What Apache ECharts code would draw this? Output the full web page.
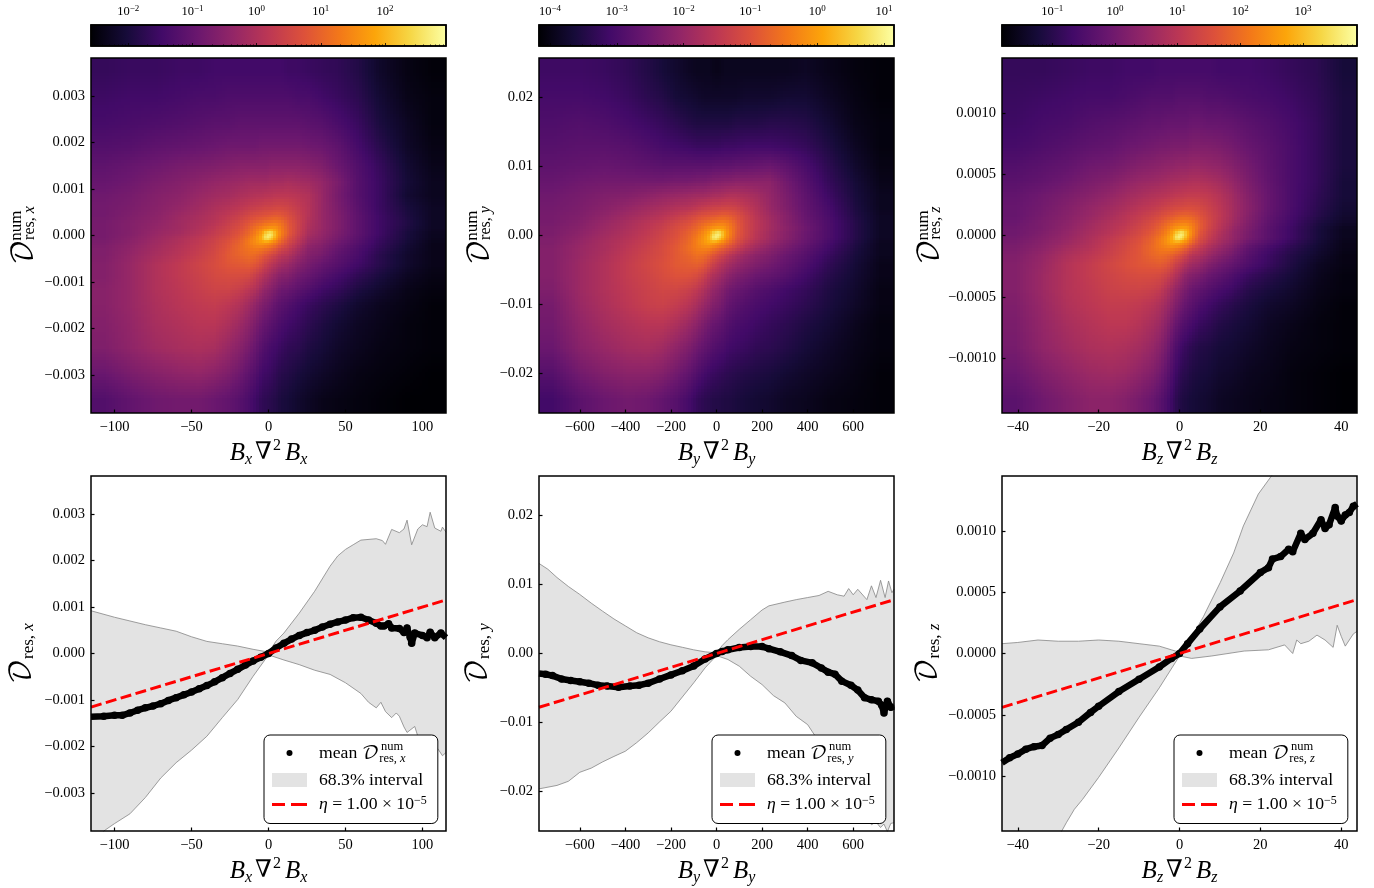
<!DOCTYPE html>
<html><head><meta charset="utf-8"><style>html,body{margin:0;padding:0;background:#fff}#c{width:1374px;height:888px}</style>
<script src="https://cdn.jsdelivr.net/npm/echarts@6/dist/echarts.min.js"></script></head><body><div id="c"></div>
<script>
const panelNames = ['x','y','z'];
const halfRangeX = [115.3, 779, 43.9];
const halfRangeY = [0.00382, 0.0257, 0.001447];
const ticksX = [[-100,-50,0,50,100],[-600,-400,-200,0,200,400,600],[-40,-20,0,20,40]];
const ticksY = [[-0.003,-0.002,-0.001,0,0.001,0.002,0.003],[-0.02,-0.01,0,0.01,0.02],[-0.001,-0.0005,0,0.0005,0.001]];
const tickDecimals = [3,2,4];
const colorbarRange = [[-2.58,2.95],[-4.165,1.15],[-1.80,3.86]];
const colorbarTicks = [[-2,-1,0,1,2],[-4,-3,-2,-1,0,1],[-1,0,1,2,3]];
const eta = 1e-5;
const infernoStops = ['#000004','#160b39','#420a68','#6a176e','#932667','#bc3754','#dd513a','#f37819','#fca50a','#f6d746','#fcffa4'];
// bin edges of the density maps, as a share of each half range (one side, repeated mirrored)
const heatEdgeShares = [0,.025,.055,.09,.135,.19,.26,.34,.44,.56,.70,.85,1];
// density map levels, % along the colour scale, rows from top to bottom
const heatLevelsX = [
[17,18,18,19,19,20,20,20,20,20,20,20,20,20,20,19,19,18,17,16,13,7,3,1],
[19,20,20,21,22,22,23,23,23,23,23,23,23,23,23,23,22,22,20,18,15,9,4,2],
[21,22,23,24,25,26,26,27,27,27,27,27,27,27,27,27,27,26,25,22,18,11,6,2],
[24,25,27,28,29,30,31,31,31,31,32,32,32,32,32,32,32,31,30,27,21,14,7,3],
[27,29,31,33,34,35,36,37,37,37,37,37,38,38,38,38,38,37,35,30,24,17,9,4],
[29,31,34,36,38,40,41,42,43,43,43,43,44,44,44,45,44,43,40,34,25,18,10,5],
[31,33,36,38,41,43,44,46,47,48,48,49,49,50,50,50,49,47,41,33,25,18,9,5],
[32,34,37,40,43,46,48,50,52,53,54,55,55,56,56,55,52,48,41,34,26,18,11,6],
[32,35,38,42,45,48,51,54,57,59,60,61,62,63,62,59,54,48,41,35,27,19,12,6],
[33,36,39,43,46,49,53,57,61,64,66,68,69,70,68,62,55,47,41,35,27,19,13,6],
[33,36,40,43,47,51,55,59,64,69,73,76,78,77,71,63,55,46,41,35,27,19,12,6],
[33,36,41,44,48,52,56,61,66,72,79,92,96,82,72,63,54,45,40,34,27,19,11,5],
[33,37,42,46,50,54,58,63,69,75,83,96,90,79,69,60,52,43,39,33,26,18,11,5],
[34,38,43,47,51,55,60,65,71,75,78,77,74,70,64,57,50,41,37,31,25,17,10,4],
[35,39,44,48,52,56,61,66,69,71,70,68,66,62,57,53,46,38,35,29,23,16,9,4],
[35,40,45,49,53,57,62,65,67,66,63,60,57,54,50,48,42,36,33,27,22,14,8,4],
[36,41,47,51,55,58,61,62,63,61,57,53,50,47,44,42,37,33,29,25,20,14,8,4],
[36,41,47,51,54,57,58,58,57,53,49,46,43,40,37,36,32,29,25,21,16,11,6,3],
[37,41,47,50,53,55,55,53,50,47,42,39,37,34,31,30,27,24,20,17,12,8,4,2],
[37,41,46,49,51,52,50,47,43,39,35,33,31,28,26,24,21,18,15,12,8,5,3,1],
[36,40,45,47,49,49,46,42,38,34,30,28,26,24,22,20,18,15,12,9,6,4,2,1],
[35,39,43,45,46,45,41,37,33,29,25,23,21,20,18,16,15,12,10,7,5,3,2,1],
[30,34,37,39,40,38,35,31,27,24,20,19,18,16,14,13,11,9,7,5,3,2,1,0],
[24,28,31,32,32,30,28,25,22,19,16,15,14,13,11,10,8,6,4,3,2,1,0,0]];
const heatLevelsY = [
[19,19,18,16,13,10,8,6,5,5,5,4,4,5,5,5,5,5,5,5,6,4,2,1],
[21,21,20,18,15,13,10,9,8,7,7,7,7,7,7,7,8,8,8,9,9,6,3,1],
[23,24,23,21,19,17,15,13,12,12,12,12,12,12,12,13,13,13,14,14,13,9,4,2],
[25,26,26,25,23,21,20,19,18,18,18,18,18,19,19,19,20,20,20,19,17,12,6,2],
[27,28,29,28,27,26,26,26,26,26,26,27,27,27,27,28,28,29,30,27,22,15,8,3],
[29,31,32,32,32,32,33,33,34,34,35,36,36,37,37,38,38,38,38,32,25,17,10,4],
[31,33,35,36,38,40,41,42,43,43,44,45,45,46,47,47,46,44,40,34,27,19,11,5],
[32,34,37,40,43,45,47,48,50,52,53,54,54,55,55,54,51,47,41,35,28,21,12,5],
[33,35,39,43,46,49,52,55,58,60,61,62,63,64,63,60,55,49,43,37,29,22,13,6],
[33,36,41,45,49,52,56,59,63,66,68,70,71,71,69,63,56,50,44,37,30,23,14,6],
[34,37,42,46,50,54,58,62,66,71,75,78,79,78,72,64,56,50,44,38,31,23,14,6],
[34,38,43,47,51,55,59,64,69,75,81,93,97,83,73,63,56,49,43,37,30,23,14,6],
[35,39,44,48,52,56,60,65,71,77,84,97,91,80,71,62,55,49,43,37,30,23,14,6],
[35,40,45,49,53,57,61,66,72,77,80,78,75,71,66,59,52,46,41,35,29,21,13,5],
[36,41,45,50,54,58,62,67,71,73,72,69,66,63,59,54,48,43,38,33,27,20,12,5],
[36,41,46,51,55,58,62,65,68,67,64,60,57,54,50,46,42,38,35,30,25,18,11,5],
[36,42,47,52,56,59,62,63,64,62,57,53,50,47,44,41,38,35,32,28,23,16,10,4],
[36,42,47,52,55,58,60,60,58,54,49,46,44,41,38,35,33,30,28,25,20,14,9,4],
[35,42,47,51,54,56,56,54,51,47,43,40,38,35,32,30,28,25,23,20,17,12,8,3],
[33,41,46,50,53,54,52,49,45,41,38,35,34,31,28,26,24,22,20,18,15,11,7,3],
[32,39,44,47,49,49,46,42,38,34,31,29,28,26,24,22,21,19,17,15,12,9,5,2],
[30,37,41,44,45,43,39,35,31,28,26,24,23,22,20,19,18,16,15,13,10,7,4,2],
[25,32,36,38,38,36,32,28,24,21,19,18,17,16,15,14,13,12,11,9,7,5,3,1],
[20,26,30,32,31,28,25,21,17,15,14,13,13,12,12,11,10,9,8,6,5,3,2,1]];
const heatLevelsZ = [
[17,17,18,19,19,20,20,20,21,21,21,21,21,21,21,21,21,20,20,20,19,17,15,10],
[18,19,20,21,21,22,23,24,24,24,24,25,25,25,25,25,24,24,23,22,21,19,16,11],
[19,21,22,24,25,26,27,28,28,29,29,29,29,29,30,30,29,29,28,26,24,21,17,11],
[21,23,25,27,28,30,31,32,33,33,34,34,34,34,35,35,35,34,32,29,26,22,17,11],
[24,26,28,31,32,34,36,37,38,39,39,40,40,40,41,41,40,39,36,32,27,22,17,11],
[26,28,31,34,36,39,41,42,43,44,45,45,46,46,47,47,46,44,40,34,28,22,17,10],
[28,31,34,37,40,43,45,47,48,49,50,51,51,52,52,52,51,48,43,36,29,22,16,10],
[29,32,36,40,43,46,49,51,53,55,56,57,57,58,58,57,54,50,44,37,29,22,15,9],
[29,33,37,41,45,49,52,55,58,61,62,64,65,65,64,61,56,51,44,36,28,21,14,8],
[30,34,38,43,47,50,54,58,62,66,69,71,72,72,70,64,57,50,43,35,27,20,12,7],
[31,34,39,44,48,52,56,60,65,70,75,78,80,79,73,64,56,49,41,34,26,19,11,5],
[31,35,40,45,49,53,57,62,67,73,80,92,97,84,73,62,54,47,40,33,26,19,11,5],
[32,36,41,46,51,55,59,64,70,76,83,97,92,80,70,60,53,46,40,33,26,19,11,5],
[33,37,42,47,52,56,60,65,71,76,80,79,76,72,65,57,50,44,38,30,24,17,10,4],
[34,38,44,48,53,57,61,66,70,72,72,70,67,63,57,52,46,41,35,27,21,15,9,4],
[35,40,46,50,54,58,61,65,67,66,64,61,58,54,49,47,42,37,32,25,19,13,8,3],
[36,41,48,52,56,59,61,62,63,61,57,53,50,46,43,41,36,32,28,23,18,12,6,3],
[36,42,48,52,55,57,58,58,57,54,50,46,42,38,36,34,30,27,23,18,14,10,5,2],
[36,42,48,51,54,55,55,54,52,47,43,39,36,33,30,28,25,22,19,14,11,8,4,2],
[35,41,47,50,52,52,51,49,46,42,38,34,31,28,26,23,20,17,14,11,8,6,3,1],
[34,40,45,48,50,50,48,45,42,37,32,28,25,23,21,18,16,13,11,9,6,4,2,1],
[33,39,43,46,47,46,44,41,37,32,26,22,19,17,15,13,12,10,9,7,5,3,2,1],
[30,35,39,42,43,42,39,36,32,27,22,18,15,14,12,11,10,8,7,5,4,2,1,0],
[26,31,35,38,38,36,33,30,26,22,18,14,12,11,10,9,8,6,5,4,3,2,1,0]];
const heatLevels = [heatLevelsX, heatLevelsY, heatLevelsZ];

// profile panels: [x, value]
const upperX = [[-115.3,.00092],[-100,.00078],[-90,.0007],[-80,.00062],[-70,.00055],[-60,.00048],[-50,.00036],[-40,.00026],[-30,.00021],[-20,.00016],[-10,.00009],[0,.00003],[5,.00027],[10,.00044],[20,.00087],[30,.00134],[40,.00188],[45,.0021],[50,.00224],[55,.00234],[60,.00244],[70,.00247],[74,.00243],[76,.00235],[80,.00267],[85,.0026],[88,.00268],[90,.00287],[93,.00234],[97,.00268],[100,.00277],[103,.00273],[105,.00304],[108,.0027],[112,.00263],[113,.00272],[115.3,.00261]];
const lowerX = [[-115.3,-.0042],[-107,-.00382],[-100,-.00366],[-90,-.00345],[-80,-.0031],[-70,-.00268],[-60,-.00235],[-50,-.00208],[-40,-.00178],[-30,-.00138],[-20,-.00099],[-10,-.00049],[0,-.00003],[10,-.00014],[20,-.00024],[30,-.00036],[40,-.00045],[50,-.00063],[60,-.00086],[65,-.00105],[70,-.00117],[73,-.00105],[76,-.00125],[80,-.00138],[83,-.00128],[85,-.00135],[88,-.00158],[90,-.0017],[95,-.00157],[97,-.00178],[100,-.00185],[105,-.0019],[110,-.00205],[113,-.0022],[115.3,-.00213]];
const meanX = [[-115.3,-.00136],[-107,-.00135],[-100,-.00133],[-95,-.00133],[-90,-.00128],[-85,-.00122],[-80,-.00117],[-75,-.00113],[-70,-.00108],[-65,-.00101],[-60,-.00095],[-55,-.00089],[-50,-.00083],[-45,-.00076],[-40,-.00069],[-35,-.00061],[-30,-.00052],[-25,-.00043],[-20,-.00034],[-15,-.00025],[-10,-.00016],[-5,-.00008],[0,0],[5,.00012],[10,.00022],[15,.00031],[20,.00039],[25,.00045],[30,.0005],[35,.00057],[40,.00063],[45,.00068],[50,.00072],[55,.00077],[60,.00078],[65,.00072],[70,.00065],[73,.00059],[75,.00059],[78,.00064],[80,.00055],[85,.00054],[88,.00045],[90,.00055],[92,.00035],[93,.00022],[95,.00044],[100,.00039],[103,.00034],[105,.00046],[108,.00034],[112,.00044],[115.3,.00034]];
const upperY = [[-779,.01304],[-740,.0122],[-700,.011],[-650,.0097],[-600,.00855],[-550,.0073],[-500,.00613],[-450,.005],[-400,.004],[-350,.003],[-300,.00227],[-250,.0017],[-200,.00126],[-150,.0009],[-100,.00053],[-50,.00024],[0,.0001],[25,.00116],[50,.002],[100,.0035],[150,.0049],[200,.0063],[230,.0069],[300,.00744],[350,.0078],[400,.0081],[450,.0084],[490,.009],[530,.0085],[560,.0083],[580,.0094],[600,.0085],[620,.0093],[660,.0078],[680,.0098],[700,.0081],[720,.0106],[740,.0081],[755,.0105],[770,.0088],[779,.0093]];
const lowerY = [[-779,-.0196],[-700,-.0191],[-650,-.0185],[-600,-.0172],[-550,-.0166],[-500,-.0157],[-450,-.0149],[-400,-.01415],[-350,-.0129],[-300,-.0115],[-250,-.0099],[-200,-.00836],[-150,-.0063],[-100,-.00425],[-50,-.00208],[0,-.0003],[50,-.00087],[100,-.00184],[150,-.0033],[200,-.0045],[250,-.0061],[300,-.00715],[350,-.0091],[400,-.0103],[430,-.0118],[500,-.014],[600,-.0195],[680,-.0248],[700,-.0244],[720,-.0252],[735,-.0247],[750,-.0258],[765,-.0246],[779,-.0245]];
const meanY = [[-779,-.0029],[-750,-.003],[-720,-.0032],[-680,-.0037],[-640,-.0039],[-600,-.0041],[-560,-.0043],[-520,-.0046],[-480,-.0047],[-430,-.0049],[-380,-.0047],[-340,-.0046],[-300,-.0043],[-250,-.0037],[-200,-.0031],[-150,-.0025],[-100,-.0018],[-50,-.0008],[0,0],[25,.0003],[50,.00053],[100,.00087],[150,.001],[200,.001],[230,.0007],[280,.00024],[330,-.0003],[370,-.001],[420,-.00135],[460,-.0021],[490,-.0027],[520,-.003],[550,-.004],[590,-.0046],[620,-.0053],[650,-.0064],[680,-.0067],[710,-.0069],[725,-.0075],[735,-.0086],[750,-.0069],[765,-.0078],[779,-.0077]];
const upperZ = [[-43.9,.00008],[-40,.00009],[-35,.00011],[-30,.0001],[-25,.0001],[-20,.00011],[-15,.0001],[-10,.00008],[-5,.00006],[-2,.00003],[0,.00001],[2.6,.00011],[5.9,.0003],[10.1,.00058],[13.4,.00082],[15.8,.00104],[19.5,.0013],[22.8,.00145],[24,.0015],[30,.00185],[43.9,.0025]];
const lowerZ = [[-43.9,-.0023],[-35,-.0018],[-29,-.00144],[-28,-.00138],[-26,-.00127],[-24,-.00119],[-20,-.00101],[-15,-.00077],[-10,-.00052],[-5,-.00028],[0,-.00002],[3,-.00004],[8,-.00002],[16,.00002],[22,.00003],[26,.00007],[28,.0],[29,.00011],[30,.00008],[32,.0001],[34,.00015],[36,.00011],[38,.00005],[39,.00023],[40,.00014],[41,.00006],[43,.00016],[43.9,.00018]];
const meanZ = [[-43.9,-.00089],[-42,-.00085],[-40,-.00082],[-38,-.00078],[-36,-.00076],[-34,-.00075],[-32,-.00069],[-30,-.00066],[-28,-.00062],[-25,-.00056],[-22,-.00048],[-20,-.00043],[-15,-.00031],[-10,-.00021],[-5,-.00011],[-2,-.00004],[0,0],[2,.00008],[5,.0002],[10,.00038],[15,.00051],[20,.00066],[22,.0007],[23,.00077],[25,.00079],[27,.00085],[28,.00083],[30,.00098],[31,.00093],[33,.00098],[35,.00109],[36,.00102],[37,.00105],[38.5,.00119],[39,.00112],[40,.00108],[41,.00113],[42,.00115],[43,.0012],[43.9,.00122]];
const uppers=[upperX,upperY,upperZ], lowers=[lowerX,lowerY,lowerZ], means=[meanX,meanY,meanZ];

const SERIF = '"Liberation Serif","DejaVu Serif",serif';
const CAL = '"DejaVu Math TeX Gyre","Noto Sans Math","STIX Two Math","Liberation Serif",serif';
const panelLeft=[91,539,1002];
const W=355;
const rowTop={bar:25,heat:58,prof:476};

function hexToRgb(h){return [1,3,5].map(i=>parseInt(h.substr(i,2),16));}
const stopRgb=infernoStops.map(hexToRgb);
function inferno(level){
  const t=Math.max(0,Math.min(99.999,level))/10, i=Math.floor(t), f=t-i;
  const a=stopRgb[i], b=stopRgb[i+1];
  return 'rgb('+a.map((v,k)=>Math.round(v+(b[k]-v)*f)).join(',')+')';
}
const signedEdges=[...heatEdgeShares.slice(1).reverse().map(v=>-v),...heatEdgeShares];
const cellCentres=signedEdges.slice(1).map((e,i)=>(e+signedEdges[i])/2);
// Paint-time shading only (like imshow with bilinear display): each read cell stays one datum
// of the series; its colour is blended towards the neighbouring read cells so bin edges do not show.
function centreIndex(s){let i=0;while(i<cellCentres.length-2&&s>cellCentres[i+1])i++;
  return [i,Math.max(0,Math.min(1,(s-cellCentres[i])/(cellCentres[i+1]-cellCentres[i])))];}
function shadeAt(m,sx,sy){ // sy measured upward
  const [c,fx]=centreIndex(sx),[k,fy]=centreIndex(sy);
  const rb=23-k,rt=22-k;
  const b=m[rb][c]*(1-fx)+m[rb][c+1]*fx, t=m[rt][c]*(1-fx)+m[rt][c+1]*fx;
  return b*(1-fy)+t*fy;
}

function mathRich(){return {
  i:{fontFamily:SERIF,fontStyle:'italic',fontSize:25,lineHeight:30,color:'#000'},
  ig:{fontFamily:SERIF,fontStyle:'italic',fontSize:25,lineHeight:30,color:'#000',padding:[0,0,0,2]},
  s:{fontFamily:SERIF,fontStyle:'italic',fontSize:16,lineHeight:14,verticalAlign:'bottom',color:'#000'},
  r:{fontFamily:SERIF,fontSize:24,lineHeight:30,color:'#000',padding:[0,0,0,3]},
  u:{fontFamily:SERIF,fontSize:16,lineHeight:18,verticalAlign:'top',color:'#000',padding:[0,2,0,1]},
};}
const grids=[],xAxes=[],yAxes=[],series=[],legends=[];
function addGrid(left,top,h,z){grids.push({left:left,top:top,width:W,height:h,show:true,borderColor:'#000',borderWidth:1.5,backgroundColor:'transparent',z:z,containLabel:false,outerBoundsMode:'none'});return grids.length-1;}
function minusFmt(s){return String(s).replace('-','\u2212');}
function minorLogs(r){const o=[];for(let n=Math.floor(r[0]);n<=Math.ceil(r[1]);n++)for(let k=2;k<=9;k++){const v=n+Math.log10(k);if(v>r[0]&&v<r[1])o.push(v);}return o;}

panelNames.forEach((nm,p)=>{
  const left=panelLeft[p];
  const g0=addGrid(left,rowTop.bar,21,10);
  xAxes.push({gridIndex:g0,type:'value',position:'top',min:colorbarRange[p][0],max:colorbarRange[p][1],z:11,
    axisLine:{show:false},splitLine:{show:false},axisLabel:{show:false},
    axisTick:{show:true,length:1.5,inside:false,customValues:minorLogs(colorbarRange[p]),lineStyle:{color:'#000',width:.8}}});
  yAxes.push({gridIndex:g0,type:'value',min:0,max:1,show:false});
  const g1=addGrid(left,rowTop.bar,21,10);
  xAxes.push({gridIndex:g1,type:'value',position:'top',min:colorbarRange[p][0],max:colorbarRange[p][1],z:11,
    axisLine:{show:false},splitLine:{show:false},
    axisTick:{show:true,length:3,inside:false,customValues:colorbarTicks[p],lineStyle:{color:'#000',width:.8}},
    axisLabel:{show:true,margin:5,customValues:colorbarTicks[p],hideOverlap:false,showMinLabel:true,showMaxLabel:true,
      formatter:v=>'{b|10}{e|'+minusFmt(v)+'}',
      rich:{b:{fontFamily:SERIF,fontSize:12.5,lineHeight:16,color:'#000'},e:{fontFamily:SERIF,fontSize:9,lineHeight:10,verticalAlign:'top',color:'#000'}}}});
  yAxes.push({gridIndex:g1,type:'value',min:0,max:1,show:false});
  const rng=colorbarRange[p];
  series.push({type:'custom',name:'colour bar '+nm,xAxisIndex:xAxes.length-1,yAxisIndex:yAxes.length-1,silent:true,
    data:[[rng[0],rng[1]]],encode:{x:[0,1]},z:2,
    renderItem:(params,api)=>{const a=api.coord([api.value(0),1]),b=api.coord([api.value(1),0]);
      return {type:'rect',shape:{x:a[0],y:a[1],width:b[0]-a[0],height:b[1]-a[1]},
        style:{fill:new echarts.graphic.LinearGradient(0,0,1,0,infernoStops.map((c,i)=>({offset:i/10,color:c})))}};}});

  const axisCommon=(gi,isX)=>({gridIndex:gi,type:'value',z:11,min:isX?-halfRangeX[p]:-halfRangeY[p],max:isX?halfRangeX[p]:halfRangeY[p],
    splitLine:{show:false},axisLine:{show:false,onZero:false},
    axisTick:{show:true,inside:true,length:3.5,customValues:isX?ticksX[p]:ticksY[p],lineStyle:{color:'#000',width:1.2}},
    axisLabel:{show:true,customValues:isX?ticksX[p]:ticksY[p],margin:isX?7:6,hideOverlap:false,showMinLabel:true,showMaxLabel:true,
      fontFamily:SERIF,fontSize:14.5,color:'#000',
      formatter:isX?(v=>minusFmt(v)):(v=>minusFmt(v===0?(0).toFixed(tickDecimals[p]):v.toFixed(tickDecimals[p])))},
    nameLocation:'middle'});
  const xName='{i|B}{s|'+nm+'}{r|\u2207}{u|2}{ig|B}{s|'+nm+'}';

  const g2=addGrid(left,rowTop.heat,W,10);
  xAxes.push(Object.assign(axisCommon(g2,true),{position:'bottom',name:xName,nameGap:25,nameTextStyle:{rich:mathRich()}}));
  const topRich={
    D:{fontFamily:CAL,fontSize:27,lineHeight:2,height:2,verticalAlign:'top',color:'#000',align:'left'},
    p:{fontSize:12,width:24,lineHeight:13,align:'left'},
    a:{fontFamily:SERIF,fontSize:17,lineHeight:13,color:'#000',align:'left'},
    b:{fontFamily:SERIF,fontSize:16,lineHeight:13,color:'#000',align:'left'},
    bi:{fontFamily:SERIF,fontStyle:'italic',fontSize:16,lineHeight:13,color:'#000',align:'left'}};
  yAxes.push(Object.assign(axisCommon(g2,false),{position:'left',nameRotate:90,nameGap:[55,47,59][p],
    name:'{p| }{a|num}\n{D|\uD835\uDC9F}{b|res, }{bi|'+nm+'}',nameTextStyle:{rich:topRich}}));
  const xi2=xAxes.length-1, yi2=yAxes.length-1;
  const matrix=heatLevels[p];
  const cells=[];
  matrix.forEach((row,r)=>row.forEach((lv,c)=>{
    const x0=signedEdges[c]*halfRangeX[p],x1=signedEdges[c+1]*halfRangeX[p];
    const y1=signedEdges[24-r]*halfRangeY[p],y0=signedEdges[23-r]*halfRangeY[p];
    cells.push([(x0+x1)/2,(y0+y1)/2,lv,x0,x1,y0,y1]);
  }));
  series.push({type:'custom',name:'density '+nm,xAxisIndex:xi2,yAxisIndex:yi2,silent:true,data:cells,encode:{x:0,y:1},z:2,clip:true,progressive:0,
    renderItem:(params,api)=>{
      const vx0=api.value(3),vx1=api.value(4),vy0=api.value(5),vy1=api.value(6);
      const a=api.coord([vx0,vy1]),b=api.coord([vx1,vy0]);
      const xa=Math.round(a[0]),ya=Math.round(a[1]),xb=Math.round(b[0]),yb=Math.round(b[1]);
      const nx=Math.max(1,Math.ceil((xb-xa)/3)),ny=Math.max(1,Math.ceil((yb-ya)/3));
      const kids=[];
      for(let i=0;i<nx;i++)for(let j=0;j<ny;j++){
        const px0=xa+Math.round((xb-xa)*i/nx),px1=xa+Math.round((xb-xa)*(i+1)/nx);
        const py0=ya+Math.round((yb-ya)*j/ny),py1=ya+Math.round((yb-ya)*(j+1)/ny);
        const sx=(vx0+(vx1-vx0)*(i+.5)/nx)/halfRangeX[p], sy=(vy1+(vy0-vy1)*(j+.5)/ny)/halfRangeY[p];
        kids.push({type:'rect',shape:{x:px0,y:py0,width:px1-px0,height:py1-py0},style:{fill:inferno(shadeAt(matrix,sx,sy))}});
      }
      return {type:'group',children:kids};}});

  const g3=addGrid(left,rowTop.prof,W,10);
  xAxes.push(Object.assign(axisCommon(g3,true),{position:'bottom',name:xName,nameGap:25,nameTextStyle:{rich:mathRich()}}));
  yAxes.push(Object.assign(axisCommon(g3,false),{position:'left',nameRotate:90,nameGap:[54,46,59][p],
    name:'{D|\uD835\uDC9F}{b|res, }{bi|'+nm+'}',
    nameTextStyle:{rich:{D:{fontFamily:CAL,fontSize:27,lineHeight:30,color:'#000'},
      b:{fontFamily:SERIF,fontSize:17,lineHeight:14,verticalAlign:'bottom',color:'#000'},
      bi:{fontFamily:SERIF,fontStyle:'italic',fontSize:17,lineHeight:14,verticalAlign:'bottom',color:'#000'}}}}));
  const xi3=xAxes.length-1, yi3=yAxes.length-1;
  const band=[...uppers[p],...lowers[p].slice().reverse()];
  const bandName='68.3% interval ('+nm+')', meanName='mean ('+nm+')', etaName='eta ('+nm+')';
  series.push({type:'custom',name:bandName,xAxisIndex:xi3,yAxisIndex:yi3,silent:true,data:band,encode:{x:0,y:1},z:2,clip:true,
    itemStyle:{color:'#e3e3e3'},
    renderItem:(params,api)=>{ if(params.dataIndex!==0) return null;
      return {type:'polygon',shape:{points:band.map(pt=>api.coord(pt))},style:{fill:'#e3e3e3'}};}});
  [uppers[p],lowers[p]].forEach((arr,k)=>series.push({type:'line',name:'edge '+k+' '+nm,xAxisIndex:xi3,yAxisIndex:yi3,data:arr,showSymbol:false,symbol:'none',silent:true,z:3,clip:true,
    lineStyle:{color:'#858585',width:.8}}));
  const hr=halfRangeX[p];
  series.push({type:'line',name:meanName,xAxisIndex:xi3,yAxisIndex:yi3,data:means[p],symbol:'circle',symbolSize:v=>Math.abs(v[0])>=hr?0:7.5,showSymbol:true,z:4,clip:true,silent:true,
    itemStyle:{color:'#000'},lineStyle:{color:'#000',width:6.5,cap:'butt',join:'round'}});
  series.push({type:'line',name:etaName,xAxisIndex:xi3,yAxisIndex:yi3,data:[[-hr,-hr*eta],[hr,hr*eta]],symbol:'none',showSymbol:false,z:5,clip:true,silent:true,
    itemStyle:{color:'#ff0000'},lineStyle:{color:'#ff0000',width:3,type:[11,4.5]}});

  legends.push({show:true,left:[264,712,1174][p],top:735,orient:'vertical',itemWidth:35,itemHeight:14,itemGap:6,selectedMode:false,
    backgroundColor:'#fff',borderColor:'#000',borderWidth:1,borderRadius:6,padding:[5,11,10,8],z:20,
    data:[{name:meanName,icon:'path://M0 0L0 0M35 14L35 14M14.5 7a3 3 0 1 0 6 0a3 3 0 1 0 -6 0Z'},
          {name:bandName,icon:'rect'},
          {name:etaName,icon:'path://M0 5.5H13V8.5H0ZM19 5.5H35V8.5H19Z'}],
    formatter:n=>{
      if(n===meanName) return '{g| }{pd| }{n|num}\n{g| }{tm|mean }{Dm|\uD835\uDC9F}{sb|res, }{sbi|'+nm+'}';
      if(n===bandName) return '{g| }{t|68.3% interval}';
      return '{g| }{ti|\u03B7}{t| = 1.00 \u00D7 10}{e|\u22125}';
    },
    textStyle:{fontFamily:SERIF,fontSize:17.7,color:'#000',rich:{
      g:{width:7,fontSize:10,lineHeight:2,height:2,align:'left'},
      pd:{width:62,fontSize:10,lineHeight:11,align:'left'},
      t:{fontFamily:SERIF,fontSize:17.7,lineHeight:19,color:'#000'},
      ti:{fontFamily:SERIF,fontStyle:'italic',fontSize:17.7,lineHeight:19,color:'#000'},
      tm:{fontFamily:SERIF,fontSize:17.7,lineHeight:2,height:2,verticalAlign:'top',color:'#000',align:'left'},
      e:{fontFamily:SERIF,fontSize:12,lineHeight:12,verticalAlign:'top',color:'#000'},
      Dm:{fontFamily:CAL,fontSize:19,lineHeight:2,height:2,verticalAlign:'top',color:'#000',align:'left'},
      n:{fontFamily:SERIF,fontSize:12.5,lineHeight:11,color:'#000',align:'left'},
      sb:{fontFamily:SERIF,fontSize:12.5,lineHeight:13,color:'#000',align:'left'},
      sbi:{fontFamily:SERIF,fontStyle:'italic',fontSize:12.5,lineHeight:13,color:'#000',align:'left'}}}});
});

const chart=echarts.init(document.getElementById('c'),null,{renderer:'canvas'});
chart.setOption({animation:false,backgroundColor:'#fff',grid:grids,xAxis:xAxes,yAxis:yAxes,series:series,legend:legends,tooltip:{show:false}});
</script></body></html>
